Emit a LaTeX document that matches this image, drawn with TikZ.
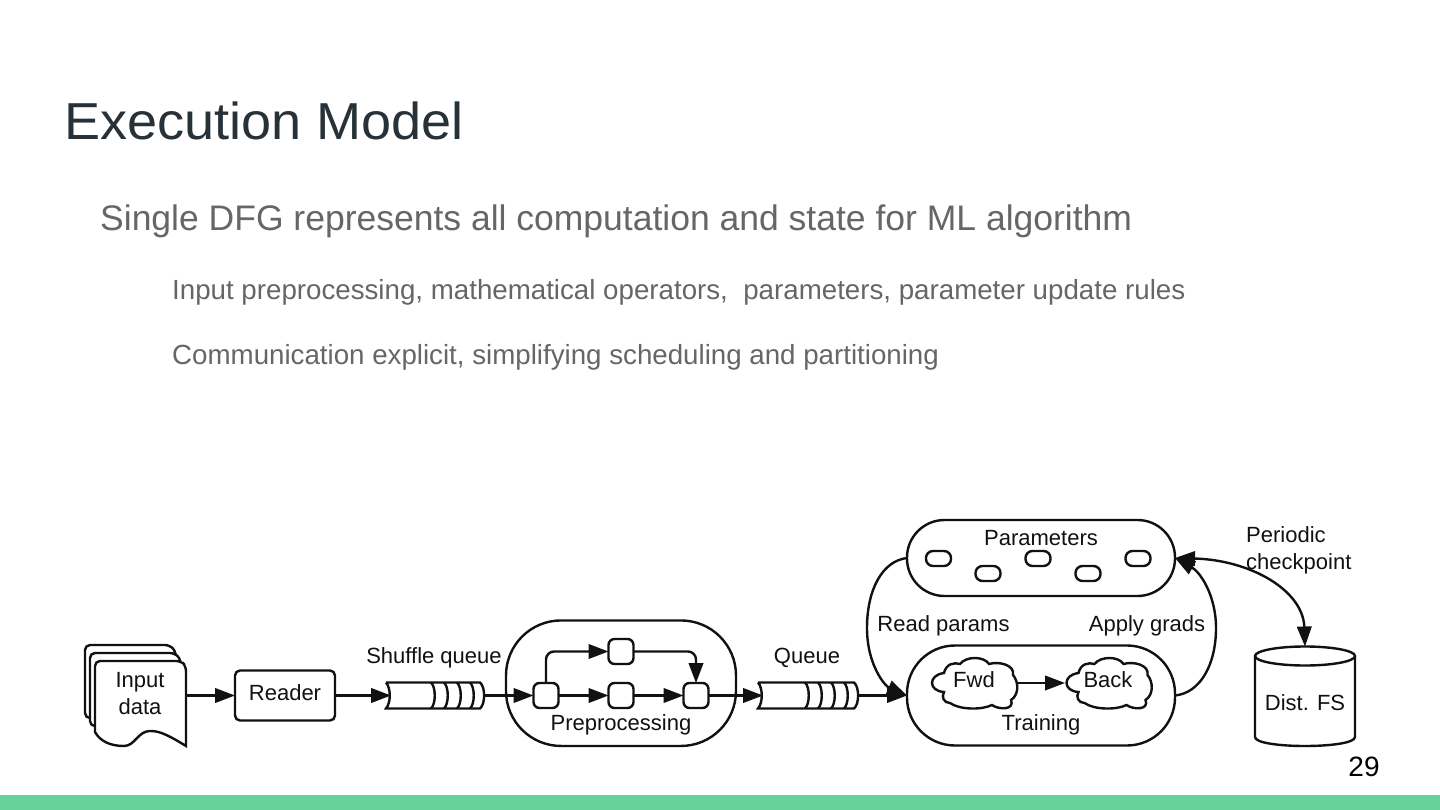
\documentclass[tikz,border=0pt]{standalone}
\usepackage{fontspec}
\setmainfont{Liberation Sans}
\newfontfamily\titlefont[FakeStretch=1.04]{Liberation Sans}
\usetikzlibrary{arrows.meta}
\definecolor{titlec}{HTML}{263238}
\definecolor{bodyc}{HTML}{666666}
\definecolor{barc}{HTML}{66D19B}
\definecolor{inkc}{HTML}{111111}
\newcommand{\cloudoutline}{(-30,-10) .. controls (-28,-19) and (-20,-21) .. (-14,-19) .. controls (-8,-27) and (10,-27) .. (15,-19) .. controls (25,-22) and (41,-18) .. (39,-8) .. controls (45,-1) and (45,12) .. (37,17) .. controls (41,27) and (25,27) .. (18,22) .. controls (8,27) and (-14,27) .. (-24,20) .. controls (-30,20) and (-33,14) .. (-30,9) .. controls (-46,8) and (-46,-8) .. cycle}
\tikzset{
  shp/.style={draw=inkc,line width=2.4pt,fill=white,inner sep=0pt,outer sep=0pt},
  box/.style={shp,rounded corners=5pt},
  tiny box/.style={box,minimum width=25pt,minimum height=25pt,rounded corners=6pt},
  param box/.style={box,minimum width=25pt,minimum height=15pt,rounded corners=7pt},
  blob/.style={draw=inkc,line width=2.4pt,inner sep=0pt,outer sep=0pt},
  con/.style={draw=inkc,line width=2.4pt,-{Triangle[length=20pt,width=14.5pt]}},
  lab/.style={inner sep=0pt,text=inkc,font=\fontsize{22}{26.5}\selectfont,align=center},
  hl/.style={inner sep=0pt,anchor=base west,font=\fontsize{#1}{#1}\selectfont},
}
\begin{document}
\begin{tikzpicture}[x=1pt,y=-1pt]
\useasboundingbox (0,0) rectangle (1440,810);
\fill[white] (0,0) rectangle (1440,810);
\fill[barc] (0,795) rectangle (1440,810);
\node[hl=52,text=titlec,font=\titlefont\fontsize{52}{52}\selectfont] (title) at (64,140) {Execution Model};
\node[hl=35.5,text=bodyc] (l1) at (100,231) {Single DFG represents all computation and state for ML algorithm};
\node[hl=27.7,text=bodyc] (l2) at (172,299) {Input preprocessing, mathematical operators,\ \ parameters, parameter update rules};
\node[hl=27.7,text=bodyc] (l3) at (172,364) {Communication explicit, simplifying scheduling and partitioning};
\node[inner sep=0pt,font=\fontsize{28}{28}\selectfont,text=black] (pg) at (1364,767) {29};
% input documents
\draw[shp,rounded corners=5pt] (85,718) -- (85,645) -- (170,645) -- (176,652) -- (176,720) -- cycle;
\draw[shp,rounded corners=5pt] (90,726) -- (90,653) -- (175,653) -- (181,660) -- (181,728) -- cycle;
\draw[shp] (95,732) -- (95,666) [rounded corners=5pt] -- (95,661) -- (181,661) -- (186,666) [sharp corners] -- (186,746)
  .. controls (165,733) and (158,731) .. (150,731) .. controls (138,731) and (135,746) .. (124,746) .. controls (110,746) and (100,741) .. (95,732) -- cycle;
\coordinate (docE) at (186,695.5);
\node[lab] (doc) at (140,693.5) {Input\\data};
% reader
\node[box,minimum width=100pt,minimum height=50pt] (reader) at (285,695.5) {};
\node[lab] (readerT) at (285,693) {Reader};
% shuffle queue
\draw[blob,fill=white] (386,682.5) -- (480,682.5) .. controls (485.5,687) and (485.5,704) .. (480,708.5) -- (386,708.5) .. controls (391,703) and (391,688) .. (386,682.5);
\foreach \qx in {432,445,458,471}{\draw[blob] (\qx-1,682.5) .. controls (\qx+4,687) and (\qx+4,704) .. (\qx-1,708.5);}
\coordinate (q1in) at (391,695.5);
\coordinate (q1out) at (484,695.5);
\node[lab] (q1lab) at (434,657.5) {Shuffle queue};
% preprocessing
\node[blob,rounded corners=55pt,minimum width=230pt,minimum height=125.5pt] (prep) at (621,683.2) {};
\node[tiny box] (pa) at (546,695.5) {};
\node[tiny box] (pb) at (621,651.5) {};
\node[tiny box] (pc) at (621,695.5) {};
\node[tiny box] (pd) at (696,695.5) {};
\node[lab] (preplab) at (621,725) {Preprocessing};
% second queue
\draw[blob,fill=white] (758,682.5) -- (854,682.5) .. controls (859.5,687) and (859.5,704) .. (854,708.5) -- (758,708.5) .. controls (763,703) and (763,688) .. (758,682.5);
\foreach \qx in {806,819,832,845}{\draw[blob] (\qx-1,682.5) .. controls (\qx+4,687) and (\qx+4,704) .. (\qx-1,708.5);}
\coordinate (q2in) at (763,695.5);
\coordinate (q2out) at (858,695.5);
\node[lab] (q2lab) at (807,657.5) {Queue};
% parameters
\node[blob,rounded corners=37.5pt,minimum width=268pt,minimum height=76pt] (params) at (1041,558) {};
\node[lab] (paramlab) at (1041,538) {Parameters};
\node[param box] (p1) at (938.5,558.5) {};
\node[param box] (p2) at (988,573.5) {};
\node[param box] (p3) at (1038,558.5) {};
\node[param box] (p4) at (1088,573.5) {};
\node[param box] (p5) at (1138,558.5) {};
% training
\node[blob,rounded corners=48pt,minimum width=268pt,minimum height=100pt] (train) at (1041,695.5) {};
\draw[shp,shift={(974,683)}] \cloudoutline;
\draw[shp,shift={(1108.5,683)}] \cloudoutline;
\coordinate (fwdE) at (1017,683);
\coordinate (backW) at (1065,683);
\node[lab] (fwdT) at (974,680) {Fwd};
\node[lab] (backT) at (1108,680) {Back};
\node[lab] (trainlab) at (1041,725) {Training};
\node[lab] (readlab) at (943.5,625.5) {Read params};
\node[lab] (applylab) at (1147,625.5) {Apply grads};
% distributed FS
\draw[shp] (1255,656) -- (1255,737) .. controls (1255,749) and (1355,749) .. (1355,737) -- (1355,656);
\draw[shp] (1305,656) ellipse [x radius=50,y radius=9.5];
\coordinate (fsTop) at (1305,646.5);
\node[lab] (fslab) at (1305,703) {Dist. FS};
\node[lab,align=left,anchor=north west] (cplab) at (1246,526.5) {Periodic\\checkpoint};
% connectors
\draw[con] (docE) -- (reader.west);
\draw[con] (reader.east) -- (q1in);
\draw[con] (q1out) -- (pa.west);
\draw[con] (pa.east) -- (pc.west);
\draw[con] (pc.east) -- (pd.west);
\draw[con,rounded corners=8pt] (pa.north) |- (pb.west);
\draw[con,rounded corners=8pt] (pb.east) -| (pd.north);
\draw[con] (pd.east) -- (q2in);
\draw[con] (q2out) -- (train.west);
\draw[con] (fwdE) -- (backW);
\draw[con] (params.west) .. controls (882,561) and (867,590) .. (867,628) .. controls (867,665) and (885,686) .. (train.west);
\draw[con] (train.east) .. controls (1200,693) and (1216,665) .. (1216,628) .. controls (1216,595) and (1200,572) .. (params.east);
\draw[draw=inkc,line width=2.4pt,{Triangle[length=20pt,width=14.5pt]}-{Triangle[length=20pt,width=14.5pt]}] (params.east) .. controls (1250,560) and (1303,590) .. (fsTop);
\end{tikzpicture}
\end{document}
